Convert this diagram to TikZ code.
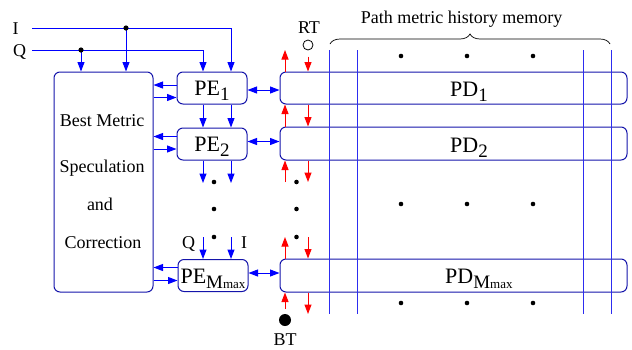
\documentclass[tikz,border=0pt]{standalone}
\usepackage{fontspec}
\setmainfont{Liberation Serif}
\usetikzlibrary{arrows.meta,decorations.pathreplacing}
\definecolor{boxblue}{RGB}{20,20,170}
\definecolor{lineblue}{RGB}{45,45,240}
\definecolor{arrblue}{RGB}{0,0,255}
\definecolor{arrred}{RGB}{255,0,0}
\newcommand{\subsc}[1]{\raisebox{-5pt}{\fontsize{19}{19}\selectfont #1}}
\newcommand{\mmaxsub}{\raisebox{-5pt}{\fontsize{19}{19}\selectfont M\fontsize{13}{13}\selectfont max}}
\begin{document}
\begin{tikzpicture}[x=1pt,y=-1pt,
 box/.style={draw=boxblue, line width=1pt, rounded corners=6pt, inner sep=0pt},
 pebox/.style={box, minimum width=70pt, minimum height=32pt, text height=15pt, text depth=0pt, font=\fontsize{22}{22}\selectfont},
 pdbox/.style={box, minimum width=347pt, minimum height=33pt},
 lbl/.style={inner sep=0pt, anchor=base, font=\fontsize{18}{18}\selectfont},
 big/.style={inner sep=0pt, anchor=base west, font=\fontsize{22}{22}\selectfont},
 ba/.style={draw=arrblue, line width=1pt, -{Triangle[length=9.5pt,width=7pt]}},
 bb/.style={draw=arrblue, line width=1pt, {Triangle[length=9.5pt,width=7pt]}-{Triangle[length=9.5pt,width=7pt]}},
 ra/.style={draw=arrred, line width=1pt, -{Triangle[length=9.5pt,width=7pt]}},
 vl/.style={draw=lineblue, line width=1pt}]
\useasboundingbox (0,0) rectangle (632,349);

% boxes
\node[box, minimum width=99pt, minimum height=220pt] (bm) at (103.5,182) {};
\node[pebox] (pe1) at (212,88) {PE\subsc{1}};
\node[pebox] (pe2) at (212,144) {PE\subsc{2}};
\node[pebox] (pem) at (213,275.5) {PE\mmaxsub};
\node[pdbox, minimum height=32pt] (pd1) at (453.5,88) {};
\node[pdbox] (pd2) at (453.5,143.5) {};
\node[pdbox] (pdm) at (453.5,275.5) {};

% vertical memory lines
\foreach \xx in {329,357,583,611} \draw[vl] (\xx,50) -- (\xx,314);

% texts
\node[big] (pd1t) at (450,96.5) {PD\subsc{1}};
\node[big] (pd2t) at (450,152) {PD\subsc{2}};
\node[big] (pdmt) at (445,283.3) {PD\mmaxsub};
\node[lbl] (t1) at (102,126.5) {Best Metric};
\node[lbl] (t2) at (102,172.5) {Speculation};
\node[lbl] (t3) at (100,210) {and};
\node[lbl] (t4) at (103,248.3) {Correction};
\node[lbl] (il) at (15.5,34) {I};
\node[lbl] (ql) at (19.5,56.5) {Q};
\node[lbl] (q2) at (188.5,248.5) {Q};
\node[lbl] (i2) at (244,248.5) {I};
\node[lbl] (pmh) at (461.5,23.3) {Path metric history memory};
\node[lbl] (rtl) at (309,33.3) {RT};
\node[lbl] (btl) at (285,345.5) {BT};

% brace
\draw[line width=0.7pt, decorate, decoration={brace, amplitude=10pt}] (330,44) -- (610,44);

% inputs I and Q
\coordinate (iin) at (32,28);
\coordinate (qin) at (32,50);
\coordinate (idot) at (126,28);
\coordinate (qdot) at (81,50);
\coordinate (xI) at (231,0);
\coordinate (xQ) at (203,0);
\draw[ba] (iin) -| (pe1.north -| xI);
\draw[ba] (qin) -| (pe1.north -| xQ);
\draw[ba] (idot) -- (idot |- bm.north);
\draw[ba] (qdot) -- (qdot |- bm.north);
\fill (idot) circle (2.6pt);
\fill (qdot) circle (2.6pt);

% PE chain
\draw[ba] (pe1.south -| xQ) -- (pe2.north -| xQ);
\draw[ba] (pe1.south -| xI) -- (pe2.north -| xI);
\coordinate (e2q) at (203,183);
\coordinate (e2i) at (231,183);
\draw[ba] (pe2.south -| xQ) -- (e2q);
\draw[ba] (pe2.south -| xI) -- (e2i);
\coordinate (emq) at (203,237);
\coordinate (emi) at (231,237);
\draw[ba] (emq) -- (pem.north -| emq);
\draw[ba] (emi) -- (pem.north -| emi);

% PE <-> best metric
\coordinate (y1a) at (0,85);
\coordinate (y1b) at (0,97.5);
\coordinate (y2a) at (0,136.5);
\coordinate (y2b) at (0,149);
\coordinate (yma) at (0,267.5);
\coordinate (ymb) at (0,280.5);
\draw[ba] (pe1.west |- y1a) -- (bm.east |- y1a);
\draw[ba] (bm.east |- y1b) -- (pe1.west |- y1b);
\draw[ba] (pe2.west |- y2a) -- (bm.east |- y2a);
\draw[ba] (bm.east |- y2b) -- (pe2.west |- y2b);
\draw[ba] (pem.west |- yma) -- (bm.east |- yma);
\draw[ba] (bm.east |- ymb) -- (pem.west |- ymb);

% PE <-> PD
\coordinate (y1c) at (0,90);
\coordinate (y2c) at (0,141.5);
\coordinate (ymc) at (0,273);
\draw[bb] (pe1.east |- y1c) -- (pd1.west |- y1c);
\draw[bb] (pe2.east |- y2c) -- (pd2.west |- y2c);
\draw[bb] (pem.east |- ymc) -- (pdm.west |- ymc);

% RT / BT and red arrows
\node[draw, circle, minimum size=10pt, inner sep=0pt, line width=0.8pt] (rt) at (308,45) {};
\node[circle, fill, minimum size=12pt, inner sep=0pt] (bt) at (285,320) {};
\coordinate (xU) at (285,0);
\coordinate (xD) at (308,0);
\coordinate (u0) at (285,50);
\coordinate (d0) at (308,56.5);
\draw[ra] (pd1.north -| xU) -- (u0);
\draw[ra] (d0) -- (pd1.north -| xD);
\draw[ra] (pd2.north -| xU) -- (pd1.south -| xU);
\draw[ra] (pd1.south -| xD) -- (pd2.north -| xD);
\coordinate (u2) at (285,182);
\coordinate (d2) at (308,182);
\draw[ra] (u2) -- (pd2.south -| xU);
\draw[ra] (pd2.south -| xD) -- (d2);
\coordinate (u3) at (285,237);
\coordinate (d3) at (308,237);
\draw[ra] (pdm.north -| xU) -- (u3);
\draw[ra] (d3) -- (pdm.north -| xD);
\coordinate (u4) at (285,309);
\coordinate (d4) at (308,314);
\draw[ra] (u4) -- (pdm.south -| xU);
\draw[ra] (pdm.south -| xD) -- (d4);

% dots
\foreach \yy in {182,209,237} {\fill (214,\yy) circle (2.3pt); \fill (296.5,\yy) circle (2.3pt);}
\foreach \xx in {401,467,533} {\fill (\xx,56) circle (2.3pt); \fill (\xx,204) circle (2.3pt); \fill (\xx,303) circle (2.3pt);}
\end{tikzpicture}
\end{document}
